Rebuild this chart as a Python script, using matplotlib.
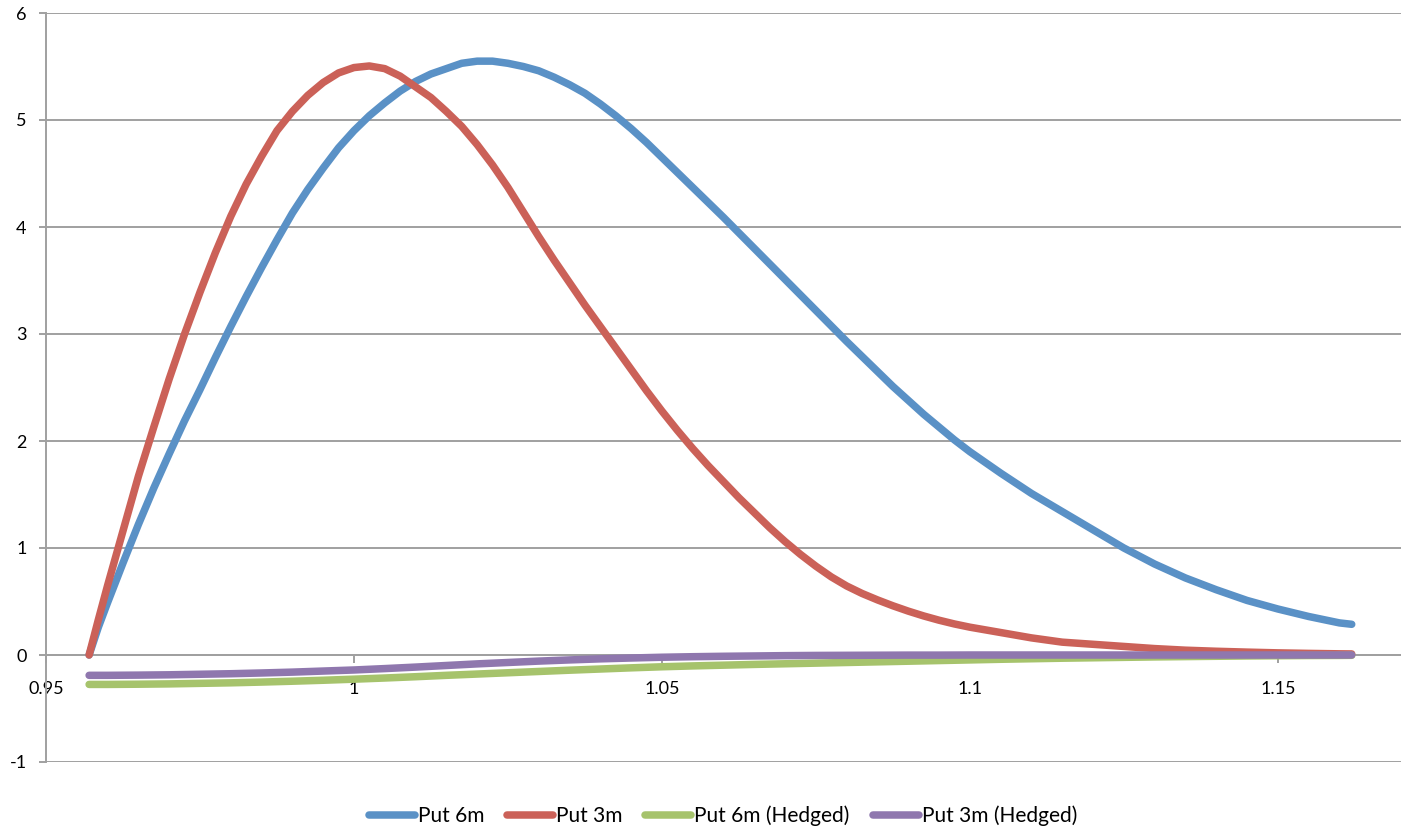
import matplotlib
matplotlib.use('Agg')
import matplotlib.pyplot as plt

# ---- data ----
x_put = [0.957, 0.9585, 0.960, 0.9625, 0.965, 0.9675, 0.970, 0.9725, 0.975, 0.9775,
         0.980, 0.9825, 0.985, 0.9875, 0.990, 0.9925, 0.995, 0.9975, 1.000, 1.0025,
         1.005, 1.0075, 1.010, 1.0125, 1.015, 1.0175, 1.020, 1.0225, 1.025, 1.0275,
         1.030, 1.0325, 1.035, 1.0375, 1.040, 1.0425, 1.045, 1.0475, 1.050, 1.0525,
         1.055, 1.0575, 1.060, 1.0625, 1.065, 1.0675, 1.070, 1.0725, 1.075, 1.0775,
         1.080, 1.0825, 1.085, 1.0875, 1.090, 1.0925, 1.095, 1.0975, 1.100, 1.105,
         1.110, 1.115, 1.120, 1.125, 1.130, 1.135, 1.140, 1.145, 1.150, 1.155,
         1.160, 1.162]

put_6m = [0.00, 0.26, 0.49, 0.86, 1.22, 1.56, 1.88, 2.19, 2.48, 2.78,
          3.07, 3.35, 3.62, 3.88, 4.13, 4.35, 4.55, 4.74, 4.90, 5.04,
          5.16, 5.27, 5.36, 5.43, 5.48, 5.53, 5.55, 5.55, 5.53, 5.50,
          5.46, 5.40, 5.33, 5.25, 5.15, 5.04, 4.92, 4.79, 4.65, 4.51,
          4.37, 4.23, 4.09, 3.945, 3.80, 3.655, 3.51, 3.365, 3.22, 3.075,
          2.93, 2.79, 2.65, 2.51, 2.38, 2.25, 2.13, 2.01, 1.90, 1.70,
          1.51, 1.34, 1.17, 1.00, 0.85, 0.72, 0.61, 0.51, 0.43, 0.36,
          0.30, 0.287]

put_3m = [0.00, 0.33, 0.65, 1.16, 1.67, 2.13, 2.58, 3.00, 3.39, 3.76,
          4.10, 4.40, 4.66, 4.90, 5.08, 5.23, 5.35, 5.44, 5.49, 5.505,
          5.48, 5.41, 5.31, 5.21, 5.08, 4.94, 4.77, 4.58, 4.37, 4.14,
          3.91, 3.69, 3.48, 3.27, 3.07, 2.87, 2.67, 2.47, 2.28, 2.10,
          1.93, 1.77, 1.62, 1.47, 1.33, 1.19, 1.06, 0.94, 0.83, 0.73,
          0.645, 0.575, 0.515, 0.46, 0.41, 0.365, 0.325, 0.29, 0.26, 0.21,
          0.16, 0.12, 0.10, 0.08, 0.06, 0.045, 0.035, 0.027, 0.02, 0.015,
          0.011, 0.01]

x_hedged = [0.957, 0.960, 0.965, 0.970, 0.975, 0.980, 0.985, 0.990, 0.995, 1.000,
            1.005, 1.010, 1.015, 1.020, 1.025, 1.030, 1.035, 1.040, 1.045, 1.050,
            1.055, 1.060, 1.065, 1.070, 1.075, 1.080, 1.085, 1.090, 1.095, 1.100,
            1.105, 1.110, 1.115, 1.120, 1.125, 1.130, 1.135, 1.140, 1.145, 1.150,
            1.155, 1.160, 1.162]

put_6m_hedged = [-0.275, -0.275, -0.273, -0.270, -0.265, -0.260, -0.253, -0.245, -0.236, -0.226,
                 -0.215, -0.203, -0.190, -0.178, -0.166, -0.154, -0.142, -0.131, -0.120, -0.110,
                 -0.102, -0.095, -0.088, -0.082, -0.076, -0.070, -0.064, -0.058, -0.052, -0.046,
                 -0.040, -0.035, -0.030, -0.026, -0.022, -0.018, -0.015, -0.012, -0.009, -0.007,
                 -0.005, -0.004, -0.003]

put_3m_hedged = [-0.190, -0.190, -0.188, -0.185, -0.180, -0.175, -0.168, -0.160, -0.150, -0.140,
                 -0.127, -0.113, -0.098, -0.083, -0.070, -0.057, -0.046, -0.036, -0.028, -0.021,
                 -0.016, -0.012, -0.009, -0.006, -0.004, -0.003, -0.002, -0.001, -0.001, 0.000,
                 0.000, 0.000, 0.000, 0.000, 0.000, 0.000, 0.000, 0.000, 0.000, 0.000,
                 0.000, 0.000, 0.000]

series_names = ["Put 6m", "Put 3m", "Put 6m (Hedged)", "Put 3m (Hedged)"]
x_ticks = [0.95, 1.00, 1.05, 1.10, 1.15]
x_tick_labels = ["0.95", "1", "1.05", "1.1", "1.15"]
y_ticks = [-1, 0, 1, 2, 3, 4, 5, 6]
y_tick_labels = ["-1", "0", "1", "2", "3", "4", "5", "6"]

# ---- style ----
plt.rcParams['font.family'] = ['Lato', 'DejaVu Sans']
plt.rcParams['axes.unicode_minus'] = False
colors = ['#5A91C6', '#CB6158', '#A6C36C', '#8F77AE']
grid_col = '#A0A0A0'

W, H = 1401, 827
fig = plt.figure(figsize=(W / 100, H / 100), dpi=100)
ax = fig.add_axes([46 / W, 1 - 762 / H, 1 - 46 / W, (762 - 13) / H])

data = [(x_put, put_6m), (x_put, put_3m), (x_hedged, put_6m_hedged), (x_hedged, put_3m_hedged)]
for i, ((xs, ys), name) in enumerate(zip(data, series_names)):
    ax.plot(xs, ys, color=colors[i], lw=5.4, solid_capstyle='round',
            solid_joinstyle='round', label=name, zorder=3 + i)

ax.set_xlim(0.95, 1.17)
ax.set_ylim(-1, 6)
ax.set_yticks(y_ticks)
ax.set_yticklabels(y_tick_labels)
ax.set_xticks(x_ticks)
ax.set_xticklabels(x_tick_labels)

ax.yaxis.grid(True, color=grid_col, lw=1.4, zorder=0)
ax.set_axisbelow(True)
for s in ['top', 'right']:
    ax.spines[s].set_visible(False)
ax.spines['bottom'].set_position(('data', 0))
ax.spines['bottom'].set_color(grid_col)
ax.spines['bottom'].set_linewidth(1.4)
ax.spines['left'].set_color(grid_col)
ax.spines['left'].set_linewidth(1.4)

ax.tick_params(axis='y', length=5, width=1.4, color=grid_col, pad=9,
               labelsize=13, labelcolor='black')
ax.tick_params(axis='x', length=6, width=1.4, color=grid_col, pad=13,
               labelsize=13, labelcolor='black')

fig.legend(loc='center', bbox_to_anchor=(0.516, 1 - 816 / H), ncol=4,
           frameon=False, fontsize=15, handlelength=2.2, handletextpad=0.15,
           columnspacing=1.1)

fig.savefig('out.png', dpi=100)
